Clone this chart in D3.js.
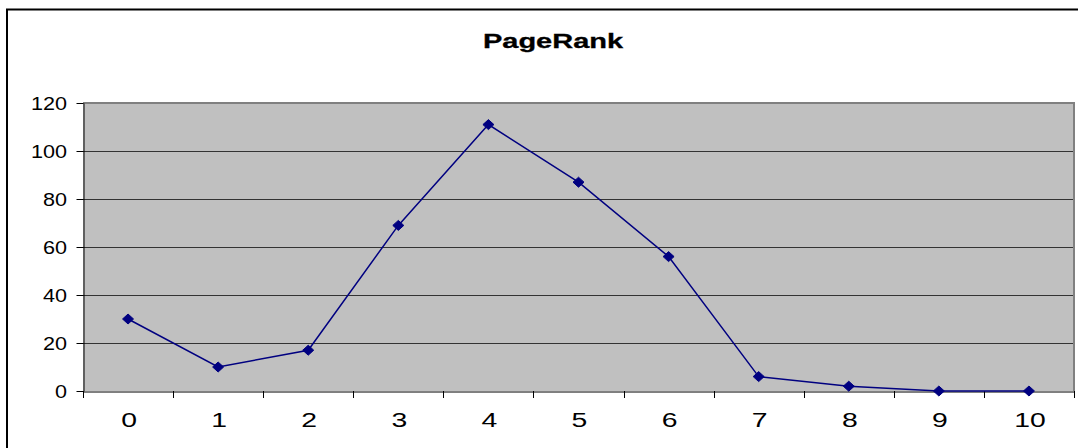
<!DOCTYPE html>
<html>
<head>
<meta charset="utf-8">
<script src="https://cdn.jsdelivr.net/npm/d3@7"></script>
<style>
  html, body { margin: 0; padding: 0; background: #fff; }
  svg { display: block; }
  text { font-family: "Liberation Sans", Arial, sans-serif; fill: #000; }
</style>
</head>
<body>
<svg id="chart" width="1078" height="448"></svg>
<script>
// PageRank distribution: number of pages per PageRank value
const categories = ["0", "1", "2", "3", "4", "5", "6", "7", "8", "9", "10"];
const pageCounts = [30, 10, 17, 69, 111, 87, 56, 6, 2, 0, 0];
const yTicks = [0, 20, 40, 60, 80, 100, 120];
const title = "PageRank";

const svg = d3.select("#chart");
const plot = { left: 83, top: 103, right: 1074, bottom: 391 };

// outer chart frame (runs off the right and bottom edges)
svg.append("rect")
  .attr("x", 7).attr("y", 9.5)
  .attr("width", 1090).attr("height", 460)
  .attr("fill", "#fff").attr("stroke", "#000").attr("stroke-width", 2);

const x = d3.scaleBand().domain(categories).range([plot.left, plot.right]).padding(0);
const y = d3.scaleLinear().domain([0, 120]).range([plot.bottom, plot.top]);

// plot area background
svg.append("rect")
  .attr("x", plot.left).attr("y", plot.top)
  .attr("width", plot.right - plot.left).attr("height", plot.bottom - plot.top)
  .attr("fill", "#c0c0c0");

// horizontal gridlines
svg.append("g")
  .selectAll("line")
  .data(yTicks.filter(t => t > 0 && t < 120))
  .join("line")
  .attr("x1", plot.left).attr("x2", plot.right)
  .attr("y1", d => Math.round(y(d)) + 0.5).attr("y2", d => Math.round(y(d)) + 0.5)
  .attr("stroke", "#333").attr("stroke-width", 1);

// plot border on top and right
svg.append("path")
  .attr("d", `M${plot.left},${plot.top} H${plot.right} V${plot.bottom}`)
  .attr("fill", "none").attr("stroke", "#808080").attr("stroke-width", 2);

// y axis
const yAxis = svg.append("g")
  .attr("transform", `translate(${plot.left + 0.5},0)`)
  .call(d3.axisLeft(y).tickValues(yTicks).tickSize(7).tickSizeOuter(0).tickFormat(d3.format("d")));
yAxis.select(".domain").attr("stroke", "#000");
yAxis.selectAll(".tick line").attr("stroke", "#000");
yAxis.selectAll(".tick text").remove();

// y tick labels, drawn slightly widened
svg.append("g")
  .selectAll("text")
  .data(yTicks)
  .join("text")
  .attr("transform", d => `translate(67,${y(d) + 6.5}) scale(1.2,1)`)
  .attr("text-anchor", "end")
  .attr("font-size", 18)
  .text(d => d);

// x axis with tick marks at category boundaries
const xAxis = svg.append("g")
  .attr("transform", `translate(0,${plot.bottom + 0.5})`)
  .call(d3.axisBottom(x).tickSize(0).tickSizeOuter(0).tickFormat(""));
xAxis.select(".domain").attr("stroke", "#000");
xAxis.selectAll(".tick").remove();

const bounds = categories.map(c => x(c)).concat([plot.right]);
svg.append("g")
  .selectAll("line")
  .data(bounds)
  .join("line")
  .attr("x1", d => Math.round(d) + 0.5).attr("x2", d => Math.round(d) + 0.5)
  .attr("y1", plot.bottom).attr("y2", plot.bottom + 7)
  .attr("stroke", "#000");

// x tick labels
svg.append("g")
  .selectAll("text")
  .data(categories)
  .join("text")
  .attr("transform", d => `translate(${x(d) + x.bandwidth() / 2 + 1},427) scale(1.35,1)`)
  .attr("text-anchor", "middle")
  .attr("font-size", 21)
  .text(d => d);

// series line
const pts = categories.map((c, i) => [x(c) + x.bandwidth() / 2, y(pageCounts[i])]);
svg.append("path")
  .datum(pts)
  .attr("d", d3.line())
  .attr("fill", "none")
  .attr("stroke", "#000080")
  .attr("stroke-width", 1.5);

// diamond markers
svg.append("g")
  .selectAll("path")
  .data(pts)
  .join("path")
  .attr("transform", d => `translate(${d[0]},${d[1]})`)
  .attr("d", "M0,-5 L5.5,0 L0,5 L-5.5,0 Z")
  .attr("fill", "#000080")
  .attr("stroke", "#000080")
  .attr("stroke-width", 1);

// title
svg.append("text")
  .attr("transform", "translate(553,47.5) scale(1.45,1)")
  .attr("text-anchor", "middle")
  .attr("font-size", 20)
  .attr("font-weight", "bold")
  .attr("stroke", "#000")
  .attr("stroke-width", 0.3)
  .text(title);
</script>
</body>
</html>
